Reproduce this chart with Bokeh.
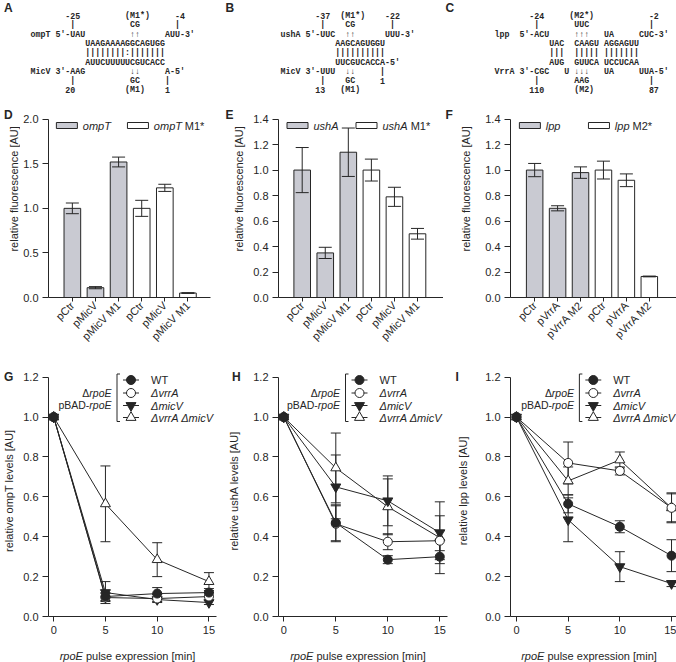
import re
import math
from bokeh.plotting import figure
from bokeh.layouts import row, column
from bokeh.models import (Range1d, FixedTicker, Label, Whisker, TeeHead,
                          ColumnDataSource, NumeralTickFormatter)
from bokeh.embed import file_html
from bokeh.resources import INLINE
from bokeh.core.properties import value

# ============================ data ============================
A_LINES = [
    "       -25         (M1*)     -4",
    "        |           CG       |",
    "ompT 5'-UAU         \u2191\u2191     AUU-3'",
    "           UAAGAAAAGGCAGUGG",
    "           ||||||||:|||||||",
    "           AUUCUUUUUCGUCACC",
    "MicV 3'-AAG         \u2193\u2193     A-5'",
    "        |           GC     |",
    "       20          (M1)    1",
]
B_LINES = [
    "       -37  (M1*)    -22",
    "        |    CG       |",
    "ushA 5'-UUC  \u2191\u2191      UUU-3'",
    "           AAGCAGUGGU",
    "           ||||||||||",
    "           UUCGUCACCA-5'",
    "MicV 3'-UUU  \u2193\u2193     |",
    "        |    GC     1",
    "       13   (M1)",
]
C_LINES = [
    "       -24     (M2*)           -2",
    "        |       UUC            |",
    "lpp  5'-ACU     \u2191\u2191\u2191   UA     CUC-3'",
    "           UAC  CAAGU AGGAGUU",
    "           |||  ||||| |||||||",
    "           AUG  GUUCA UCCUCAA",
    "VrrA 3'-CGC   U \u2193\u2193\u2193   UA     UUA-5'",
    "        |       AAG            |",
    "       110      (M2)           87",
]

D_CATS = ["pCtr", "pMicV", "pMicV M1", "pCtr", "pMicV", "pMicV M1"]
D_WT = [1.00, 0.11, 1.52]
D_WT_SD = [0.06, 0.012, 0.055]
D_MUT = [1.00, 1.23, 0.05]
D_MUT_SD = [0.09, 0.04, 0.004]
D_LEG = [("ompT", ""), ("ompT", "M1*")]

E_CATS = ["pCtr", "pMicV", "pMicV M1", "pCtr", "pMicV", "pMicV M1"]
E_WT = [1.00, 0.35, 1.14]
E_WT_SD = [0.177, 0.044, 0.19]
E_MUT = [1.00, 0.79, 0.50]
E_MUT_SD = [0.086, 0.075, 0.042]
E_LEG = [("ushA", ""), ("ushA", "M1*")]

F_CATS = ["pCtr", "pVrrA", "pVrrA M2", "pCtr", "pVrrA", "pVrrA M2"]
F_WT = [1.00, 0.70, 0.98]
F_WT_SD = [0.052, 0.02, 0.045]
F_MUT = [1.00, 0.92, 0.165]
F_MUT_SD = [0.07, 0.05, 0.003]
F_LEG = [("lpp", ""), ("lpp", "M2*")]

BAR_YTITLE = "relative fluorescence [AU]"

TIME = [0, 5, 10, 15]
STRAINS = ["WT", "\u0394vrrA", "\u0394micV", "\u0394vrrA \u0394micV"]

G_MEAN = [[1.0, 0.100, 0.115, 0.120],
          [1.0, 0.095, 0.090, 0.100],
          [1.0, 0.120, 0.085, 0.070],
          [1.0, 0.565, 0.285, 0.175]]
G_SD = [[0, 0.020, 0.030, 0.020],
        [0, 0.020, 0.020, 0.020],
        [0, 0.055, 0.010, 0.010],
        [0, 0.190, 0.085, 0.045]]
H_MEAN = [[1.0, 0.470, 0.285, 0.300],
          [1.0, 0.465, 0.375, 0.380],
          [1.0, 0.650, 0.580, 0.420],
          [1.0, 0.745, 0.550, 0.395]]
H_SD = [[0, 0.090, 0.020, 0.085],
        [0, 0.090, 0.040, 0.050],
        [0, 0.160, 0.125, 0.155],
        [0, 0.175, 0.140, 0.110]]
I_MEAN = [[1.0, 0.565, 0.450, 0.305],
          [1.0, 0.770, 0.730, 0.545],
          [1.0, 0.485, 0.250, 0.165],
          [1.0, 0.680, 0.785, 0.545]]
I_SD = [[0, 0.045, 0.030, 0.080],
        [0, 0.105, 0.020, 0.070],
        [0, 0.110, 0.075, 0.015],
        [0, 0.070, 0.040, 0.075]]

G_YTITLE = "relative ompT levels [AU]"
H_YTITLE = "relative ushA levels [AU]"
I_YTITLE = "relative lpp levels [AU]"
XTITLE = ("rpoE", "pulse expression [min]")
COND = [("\u0394", "rpoE"), ("pBAD-", "rpoE")]

# ============================ style ============================
FONT = "Liberation Sans"
MONO = "Liberation Mono"
INK = "#262626"
GREY = "#c9cad2"

AW = {' ': 278, '(': 333, ')': 333, '*': 389, '-': 333, '.': 278, '[': 278, ']': 278,
      'A': 667, 'B': 667, 'C': 722, 'D': 722, 'E': 667, 'F': 611, 'G': 778, 'H': 722,
      'I': 278, 'M': 833, 'P': 667, 'R': 722, 'T': 611, 'U': 722, 'V': 667, 'W': 944,
      'a': 556, 'b': 556, 'c': 500, 'd': 556, 'e': 556, 'f': 278, 'g': 556, 'h': 556,
      'i': 222, 'l': 222, 'm': 833, 'n': 556, 'o': 556, 'p': 556, 'r': 333, 's': 500,
      't': 278, 'u': 556, 'v': 500, 'x': 500, '\u0394': 668}
for _d in "0123456789":
    AW[_d] = 556


def tw(s, px):
    return sum(AW.get(ch, 556) for ch in s) * px / 1000.0


# ============================ layout boxes (x0, width) ============================
ROW1_Y, ROW1_H = 0, 100
ROW2_Y, ROW2_H = 100, 250
ROW3_Y, ROW3_H = 350, 292
XS_Y, XS_H = 642, 20
ROW1_FIGS = [(0, 220), (220, 223), (443, 233)]
ROW2_STRIPS = [(0, 20), (220, 28), (443, 39)]
ROW2_CHARTS = [(20, 200), (248, 195), (482, 194)]
ROW3_STRIPS = [(0, 20), (220, 28), (450, 32)]
ROW3_CHARTS = [(20, 200), (248, 202), (482, 194)]


def text_fig(x0, w, y0, h):
    # y data = -(page y), so that the vertical direction is the usual one
    p = figure(width=w, height=h, x_range=Range1d(x0, x0 + w), y_range=Range1d(-(y0 + h), -y0),
               x_axis_type=None, y_axis_type=None, toolbar_location=None, title=None,
               output_backend="svg", min_border=0, min_border_left=0, min_border_right=0,
               min_border_top=0, min_border_bottom=0)
    p.outline_line_color = None
    p.background_fill_color = "white"
    p.border_fill_color = "white"
    return p


def put(p, x, y, t, size=11, style="normal", align="left", baseline="middle", angle=0.0,
        font=FONT):
    p.text(x=[x], y=[-y], text=[t], text_font=value(font), text_font_size=value(f"{size}px"),
           text_font_style=style, text_align=align, text_baseline=baseline, angle=angle,
           text_color=INK)


def put_rich_h(p, xc, yc, parts, size):
    sp = tw(" ", size)
    widths = [tw(t, size) for t, _ in parts]
    cur = xc - (sum(widths) + sp * (len(parts) - 1)) / 2
    for (t, st), w in zip(parts, widths):
        put(p, cur + w / 2, yc, t, size=size, style=st, align="center")
        cur += w + sp


class Box:
    def __init__(self, x0, w, y0, h, L, R, T, B):
        self.x0, self.w, self.y0, self.h = x0, w, y0, h
        self.bl = max(0, int(round(L - x0)))
        self.br = max(0, int(round(x0 + w - R)))
        self.bt = max(0, int(round(T - y0)))
        self.bb = max(0, int(round(y0 + h - B)))
        self.L = x0 + self.bl
        self.R = x0 + w - self.br
        self.T = y0 + self.bt
        self.B = y0 + h - self.bb


def chart_fig(b, xr, yr, ybounds):
    p = figure(width=b.w, height=b.h, x_range=Range1d(*xr), y_range=Range1d(*yr),
               toolbar_location=None, output_backend="svg", title=None,
               min_border_left=b.bl, min_border_right=b.br,
               min_border_top=b.bt, min_border_bottom=b.bb)
    p.outline_line_color = None
    p.background_fill_color = "white"
    p.border_fill_color = "white"
    p.grid.visible = False
    for ax in list(p.xaxis) + list(p.yaxis):
        ax.axis_line_color = INK
        ax.axis_line_width = 1
        ax.major_tick_line_color = INK
        ax.minor_tick_line_color = None
        ax.major_tick_in = 0
        ax.major_label_text_font = FONT
        ax.major_label_text_font_size = "11px"
        ax.major_label_text_color = INK
    p.yaxis.major_tick_out = 6
    p.yaxis.major_label_standoff = 4
    p.yaxis.bounds = ybounds
    return p


def lab(p, x, y, text, size=11, style="normal", align="left", baseline="middle"):
    p.add_layout(Label(x=x, y=y, text=text, text_font=FONT, text_font_size=f"{size}px",
                       text_font_style=style, text_align=align, text_baseline=baseline,
                       text_color=INK))


def letter(p, x, y_cap_centre, ch):
    put(p, x, y_cap_centre, ch, size=12, style="bold", baseline="middle")


# ---------------------------- row 1 ----------------------------
def text_panel(c, ch, lines, x0, letter_pos):
    fx, fw = ROW1_FIGS[c]
    p = text_fig(fx, fw, ROW1_Y, ROW1_H)
    cw, lh, y0 = 4.98, 9.3, 15.0
    xs, ys, ts = [], [], []
    for i, line in enumerate(lines):
        for m in re.finditer(r"\S+", line):
            xs.append(x0 + m.start() * cw)
            ys.append(-(y0 + i * lh))
            ts.append(m.group())
    src = ColumnDataSource(dict(x=xs, y=ys, t=ts))
    p.text(x="x", y="y", text="t", source=src, text_font=value(MONO),
           text_font_size=value("8.3px"), text_font_style="bold", text_align="left",
           text_baseline="middle", text_color=INK)
    letter(p, letter_pos[0], letter_pos[1], ch)
    return p


# ---------------------------- row 2 ----------------------------
def bar_panel(c, ch, axis_frame, c0, spc, ymax, ystep, cats, wt, wt_sd, mu, mu_sd, leg,
              leg_x, ytitle_x, letter_pos):
    sx, sw = ROW2_STRIPS[c]
    strip = text_fig(sx, sw, ROW2_Y, ROW2_H)
    letter(strip, letter_pos[0], letter_pos[1], ch)
    L, R, Ytop, B = axis_frame
    cx, cwid = ROW2_CHARTS[c]
    b = Box(cx, cwid, ROW2_Y, ROW2_H, L, R, 106.0, B)
    put(strip, ytitle_x, (Ytop + b.B) / 2, BAR_YTITLE, size=11, align="center",
        angle=math.pi / 2)
    xm = lambda x: (x - c0) / spc
    ym = lambda y: (b.B - y) / (b.B - Ytop) * ymax
    p = chart_fig(b, (xm(b.L), xm(b.R)), (0, ym(b.T)), (0, ymax))
    idx = list(range(len(cats)))
    vals = list(wt) + list(mu)
    sds = list(wt_sd) + list(mu_sd)
    fills = [GREY] * len(wt) + ["white"] * len(mu)
    src = ColumnDataSource(dict(x=idx, top=vals, fill=fills,
                                up=[v + s for v, s in zip(vals, sds)],
                                lo=[v - s for v, s in zip(vals, sds)]))
    p.vbar(x="x", top="top", bottom=0, width=0.72, fill_color="fill", line_color=INK,
           line_width=1, source=src)
    p.add_layout(Whisker(base="x", upper="up", lower="lo", source=src, line_color=INK,
                         line_width=1, level="overlay",
                         upper_head=TeeHead(size=13, line_color=INK, line_width=1),
                         lower_head=TeeHead(size=13, line_color=INK, line_width=1)))
    n = int(round(ymax / ystep))
    p.yaxis.ticker = FixedTicker(ticks=[round(i * ystep, 6) for i in range(n + 1)])
    p.yaxis.formatter = NumeralTickFormatter(format="0.0")
    xa = p.xaxis[0]
    xa.ticker = FixedTicker(ticks=idx)
    xa.major_label_overrides = {i: cats[i] for i in idx}
    xa.major_label_orientation = math.pi / 4
    xa.major_tick_out = 4
    xa.major_label_standoff = 2
    ly = 125.0
    for (it, up), lx, fc in zip(leg, leg_x, [GREY, "white"]):
        p.rect(x=[xm(lx + 10.5)], y=[ym(ly)], width=21, height=6, width_units="screen",
               height_units="screen", fill_color=fc, line_color=INK, line_width=1)
        tx = lx + 26.5
        lab(p, xm(tx), ym(ly), it, style="italic")
        if up:
            lab(p, xm(tx + tw(it + " ", 11)), ym(ly), up)
    return strip, p


# ---------------------------- row 3 ----------------------------
MARKERS = [("circle", INK, 9), ("circle", "white", 9),
           ("inverted_triangle", INK, 10), ("triangle", "white", 10)]


def line_panel(c, ch, axis_frame, z0, ppm, means, sds, ytitle, ytitle_x, bracket_x,
               letter_pos, xtitle_x, xstrip):
    sx, sw = ROW3_STRIPS[c]
    strip = text_fig(sx, sw, ROW3_Y, ROW3_H)
    letter(strip, letter_pos[0], letter_pos[1], ch)
    L, R, Ytop, B = axis_frame
    cx, cwid = ROW3_CHARTS[c]
    b = Box(cx, cwid, ROW3_Y, ROW3_H, L, R, 364.0, B)
    put(strip, ytitle_x, (Ytop + b.B) / 2, ytitle, size=11, align="center",
        angle=math.pi / 2)
    put_rich_h(xstrip, xtitle_x, 655.0, [(XTITLE[0], "italic"), (XTITLE[1], "normal")], 11)
    ymax = 1.2
    xm = lambda x: (x - z0) / ppm
    ym = lambda y: (b.B - y) / (b.B - Ytop) * ymax
    p = chart_fig(b, (xm(b.L), xm(b.R)), (0, ym(b.T)), (0, ymax))
    p.yaxis.ticker = FixedTicker(ticks=[0, 0.2, 0.4, 0.6, 0.8, 1.0, 1.2])
    p.yaxis.formatter = NumeralTickFormatter(format="0.0")
    p.xaxis.ticker = FixedTicker(ticks=TIME)
    p.xaxis.major_tick_out = 5
    p.xaxis.major_label_standoff = 4
    order = [3, 2, 1, 0]
    for k in order:
        p.line(TIME, means[k], line_color=INK, line_width=1)
    for k in order:
        xs = [t for t, s in zip(TIME, sds[k]) if s > 0]
        up = [m + s for m, s in zip(means[k], sds[k]) if s > 0]
        lo = [m - s for m, s in zip(means[k], sds[k]) if s > 0]
        src = ColumnDataSource(dict(x=xs, up=up, lo=lo))
        p.add_layout(Whisker(base="x", upper="up", lower="lo", source=src, line_color=INK,
                             line_width=1, level="underlay",
                             upper_head=TeeHead(size=10, line_color=INK, line_width=1),
                             lower_head=TeeHead(size=10, line_color=INK, line_width=1)))
    for k in order:
        mk, fc, sz = MARKERS[k]
        p.scatter(TIME, means[k], marker=mk, size=sz, fill_color=fc, line_color=INK,
                  line_width=1)
    rows_y = [379.5, 392.5, 405.0, 417.0]
    bx = bracket_x
    p.line([xm(bx + 3), xm(bx), xm(bx), xm(bx + 3)],
           [ym(373.5), ym(373.5), ym(421.0), ym(421.0)], line_color=INK, line_width=1)
    for k, name in enumerate(STRAINS):
        yy = ym(rows_y[k])
        p.line([xm(bx + 6), xm(bx + 22)], [yy, yy], line_color=INK, line_width=1)
        mk, fc, sz = MARKERS[k]
        p.scatter([xm(bx + 14)], [yy], marker=mk, size=sz, fill_color=fc, line_color=INK,
                  line_width=1)
        lab(p, xm(bx + 34), yy, name, size=11, style="normal" if k == 0 else "italic")
    for (a, bb), yy in zip(COND, [392.5, 404.0]):
        wb = tw(bb, 10.5)
        wa = tw(a, 10.5)
        right = bx - 5.5
        lab(p, xm(right - wb), ym(yy), bb, size=10.5, style="italic")
        lab(p, xm(right - wb - wa), ym(yy), a, size=10.5)
    return strip, p


pA = text_panel(0, "A", A_LINES, 30.0, (3.5, 7.0))
pB = text_panel(1, "B", B_LINES, 280.0, (225.0, 7.0))
pC = text_panel(2, "C", C_LINES, 494.0, (445.0, 7.0))

sD, pD = bar_panel(0, "D", (46.7, 210.0, 118.7, 296.7), 71.0, 23.26, 2.0, 0.5, D_CATS,
                   D_WT, D_WT_SD, D_MUT, D_MUT_SD, D_LEG, (55.0, 126.5), 13.5, (3.5, 110.7))
sE, pE = bar_panel(1, "E", (277.7, 443.0, 118.6, 296.7), 301.7, 23.06, 1.4, 0.2, E_CATS,
                   E_WT, E_WT_SD, E_MUT, E_MUT_SD, E_LEG, (286.5, 355.5), 238.0, (225.0, 110.7))
sF, pF = bar_panel(2, "F", (509.3, 676.0, 118.6, 296.7), 533.3, 23.07, 1.4, 0.2, F_CATS,
                   F_WT, F_WT_SD, F_MUT, F_MUT_SD, F_LEG, (518.0, 587.5), 465.0, (445.0, 110.7))

xstrip = text_fig(0, 676, XS_Y, XS_H)
sG, pG = line_panel(0, "G", (47.5, 216.0, 376.7, 616.3), 53.2, 10.35, G_MEAN, G_SD, G_YTITLE,
                    8.5, 116.5, (3.5, 364.2), 127.0, xstrip)
sH, pH = line_panel(1, "H", (277.7, 447.0, 376.7, 616.3), 283.3, 10.4, H_MEAN, H_SD, H_YTITLE,
                    233.0, 345.0, (231.5, 364.2), 357.5, xstrip)
sI, pI = line_panel(2, "I", (509.3, 676.0, 376.7, 616.3), 515.0, 10.4, I_MEAN, I_SD, I_YTITLE,
                    462.0, 578.3, (455.0, 364.2), 588.5, xstrip)

layout = column(row(pA, pB, pC), row(sD, pD, sE, pE, sF, pF),
                row(sG, pG, sH, pH, sI, pI), xstrip)
open("out.html", "w").write(file_html(layout, INLINE, title="MicV VrrA"))
